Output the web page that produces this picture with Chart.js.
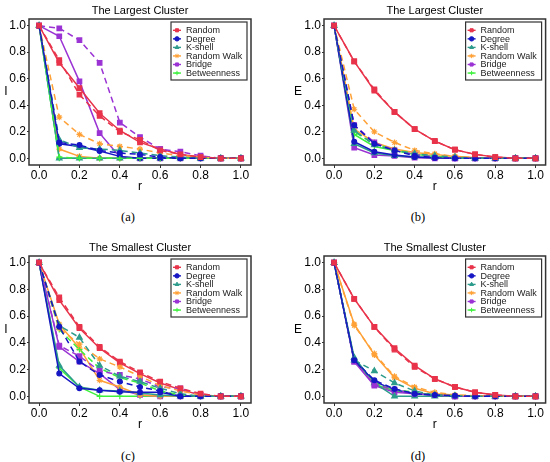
<!DOCTYPE html>
<html>
<head>
<meta charset="utf-8">
<script src="https://cdn.jsdelivr.net/npm/chart.js@4.4.1/dist/chart.umd.min.js"></script>
<style>
  html, body { margin: 0; padding: 0; background: #fff; }
  #page { position: relative; width: 550px; height: 462px; overflow: hidden; }
  .panel { position: absolute; }
  .caption { position: absolute; width: 40px; margin-left: -20px; text-align: center;
             font-family: 'Liberation Serif', 'DejaVu Serif', serif; font-size: 12.5px; color: #000; }
</style>
</head>
<body>
<div id="page"></div>
<script>
// x values (fraction of removed nodes)
const rValues = [0, 0.1, 0.2, 0.3, 0.4, 0.5, 0.6, 0.7, 0.8, 0.9, 1.0];
const methodNames = ['Random', 'Degree', 'K-shell', 'Random Walk', 'Bridge', 'Betweenness'];
const xTickValues = [0, 0.2, 0.4, 0.6, 0.8, 1.0];
const yTickValues = [0, 0.2, 0.4, 0.6, 0.8, 1.0];
const panelTitles = ['The Largest Cluster', 'The Largest Cluster', 'The Smallest Cluster', 'The Smallest Cluster'];
const yAxisLabels = ['I', 'E', 'I', 'E'];
const captions = ['(a)', '(b)', '(c)', '(d)'];

// rows follow methodNames order
const largestI_solid = [
  [1, 0.72, 0.53, 0.34, 0.21, 0.12, 0.07, 0.03, 0.01, 0, 0],
  [1, 0.11, 0.09, 0.055, 0.015, 0, 0, 0, 0, 0, 0],
  [1, 0, 0, 0, 0, 0, 0, 0, 0, 0, 0],
  [1, 0.07, 0.015, 0, 0, 0, 0, 0, 0, 0, 0],
  [1, 0.92, 0.58, 0.19, 0.01, 0, 0, 0, 0, 0, 0],
  [1, 0, 0, 0, 0, 0, 0, 0, 0, 0, 0]
];
const largestI_dashed = [
  [1, 0.74, 0.48, 0.32, 0.20, 0.14, 0.06, 0.03, 0.01, 0, 0],
  [1, 0.12, 0.10, 0.06, 0.04, 0.03, 0.01, 0, 0, 0, 0],
  [1, 0.14, 0.08, 0.07, 0.06, 0.04, 0.02, 0.01, 0, 0, 0],
  [1, 0.31, 0.18, 0.11, 0.09, 0.07, 0.04, 0.02, 0.01, 0, 0],
  [1, 0.98, 0.89, 0.72, 0.27, 0.16, 0.07, 0.05, 0.02, 0, 0],
  [1, 0.01, 0, 0, 0, 0, 0, 0, 0, 0, 0]
];
const largestE_solid = [
  [1, 0.73, 0.51, 0.35, 0.22, 0.13, 0.065, 0.03, 0.01, 0, 0],
  [1, 0.125, 0.05, 0.025, 0.01, 0.005, 0, 0, 0, 0, 0],
  [1, 0.11, 0.04, 0.02, 0.01, 0.005, 0, 0, 0, 0, 0],
  [1, 0.22, 0.12, 0.07, 0.045, 0.03, 0.015, 0.005, 0, 0, 0],
  [1, 0.08, 0.025, 0.018, 0.005, 0, 0, 0, 0, 0, 0],
  [1, 0.18, 0.09, 0.06, 0.03, 0.015, 0.005, 0, 0, 0, 0]
];
const largestE_dashed = [
  [1, 0.73, 0.52, 0.35, 0.22, 0.13, 0.065, 0.03, 0.01, 0, 0],
  [1, 0.25, 0.11, 0.06, 0.02, 0.005, 0, 0, 0, 0, 0],
  [1, 0.21, 0.10, 0.06, 0.035, 0.02, 0.01, 0, 0, 0, 0],
  [1, 0.37, 0.20, 0.12, 0.06, 0.035, 0.015, 0.005, 0, 0, 0],
  [1, 0.25, 0.12, 0.06, 0.03, 0.01, 0, 0, 0, 0, 0],
  [1, 0.20, 0.11, 0.065, 0.035, 0.015, 0.005, 0, 0, 0, 0]
];
const smallestI_solid = [
  [1, 0.72, 0.51, 0.36, 0.25, 0.17, 0.10, 0.05, 0.01, 0, 0],
  [1, 0.17, 0.06, 0.045, 0.035, 0.03, 0.03, 0, 0, 0, 0],
  [1, 0.23, 0.07, 0.045, 0.04, 0.025, 0.01, 0, 0, 0, 0],
  [1, 0.54, 0.36, 0.12, 0.07, 0.01, 0, 0, 0, 0, 0],
  [1, 0.37, 0.26, 0.17, 0.05, 0.01, 0, 0, 0, 0, 0],
  [1, 0.21, 0.07, 0, 0, 0, 0, 0, 0, 0, 0]
];
const smallestI_dashed = [
  [1, 0.74, 0.52, 0.37, 0.26, 0.18, 0.11, 0.06, 0.02, 0, 0],
  [1, 0.52, 0.26, 0.16, 0.11, 0.07, 0.04, 0, 0, 0, 0],
  [1, 0.53, 0.44, 0.23, 0.15, 0.11, 0.06, 0.02, 0, 0, 0],
  [1, 0.51, 0.39, 0.28, 0.22, 0.15, 0.08, 0.04, 0.01, 0, 0],
  [1, 0.38, 0.30, 0.19, 0.16, 0.13, 0.07, 0.06, 0.01, 0, 0],
  [1, 0.50, 0.35, 0.21, 0.14, 0.10, 0.04, 0.01, 0, 0, 0]
];
const smallestE_solid = [
  [1, 0.73, 0.52, 0.36, 0.23, 0.13, 0.07, 0.03, 0.01, 0, 0],
  [1, 0.27, 0.11, 0.05, 0.02, 0.01, 0, 0, 0, 0, 0],
  [1, 0.29, 0.10, 0, 0, 0, 0, 0, 0, 0, 0],
  [1, 0.54, 0.31, 0.14, 0.06, 0.02, 0.01, 0, 0, 0, 0],
  [1, 0.26, 0.08, 0.03, 0.02, 0.01, 0, 0, 0, 0, 0],
  [1, 0.27, 0.09, 0.04, 0.02, 0.01, 0, 0, 0, 0, 0]
];
const smallestE_dashed = [
  [1, 0.73, 0.52, 0.35, 0.22, 0.13, 0.07, 0.03, 0.01, 0, 0],
  [1, 0.27, 0.12, 0.055, 0.02, 0.01, 0.005, 0, 0, 0, 0],
  [1, 0.27, 0.19, 0.10, 0.04, 0.01, 0.005, 0, 0, 0, 0],
  [1, 0.53, 0.32, 0.15, 0.07, 0.03, 0.01, 0.005, 0, 0, 0],
  [1, 0.26, 0.09, 0.05, 0.02, 0.01, 0, 0, 0, 0, 0],
  [1, 0.27, 0.10, 0.05, 0.03, 0.01, 0, 0, 0, 0, 0]
];

const methodColors = ['#e8334a', '#1616c4', '#2d9c8c', '#ffa136', '#9b33d4', '#3cf03c'];
const methodPoints = ['rect', 'circle', 'triangle', 'star', 'rect', 'cross'];
const pointSizes = [3.2, 2.4, 3.2, 3, 3.2, 3];

const FONT = "'Liberation Sans', Arial, sans-serif";
Chart.defaults.font.family = FONT;
Chart.defaults.color = '#000';

// panel placement on the page
const panels = [
  { solid: largestI_solid, dashed: largestI_dashed, left: 0, top: 0, width: 275, height: 197, padLeft: 0, padRight: 24, padTop: 19, titleY: 10.5, axisWidth: 29, capX: 128, capY: 218 },
  { solid: largestE_solid, dashed: largestE_dashed, left: 275, top: 0, width: 275, height: 197, padLeft: 17, padRight: 4, padTop: 19, titleY: 10.5, axisWidth: 32, capX: 418, capY: 218 },
  { solid: smallestI_solid, dashed: smallestI_dashed, left: 0, top: 230, width: 275, height: 205, padLeft: 0, padRight: 24, padTop: 26, titleY: 17.5, axisWidth: 29, capX: 128, capY: 457 },
  { solid: smallestE_solid, dashed: smallestE_dashed, left: 275, top: 230, width: 275, height: 205, padLeft: 17, padRight: 4, padTop: 26, titleY: 17.5, axisWidth: 32, capX: 418, capY: 457 }
];

// frame round the plot area, title over the plot, upright y-axis label, legend box inside the plot
const framePlugin = {
  id: 'frameAndLegend',
  afterDraw(chart, args, opts) {
    const { ctx, chartArea } = chart;
    ctx.save();
    ctx.strokeStyle = '#333';
    ctx.lineWidth = 1.5;
    ctx.setLineDash([]);
    ctx.strokeRect(chartArea.left, chartArea.top, chartArea.right - chartArea.left, chartArea.bottom - chartArea.top);

    ctx.fillStyle = '#000';
    ctx.textAlign = 'center';
    ctx.textBaseline = 'middle';
    ctx.font = '11px ' + FONT;
    ctx.fillText(opts.title, (chartArea.left + chartArea.right) / 2, opts.titleY);

    // ggplot keeps this axis title upright
    ctx.font = '12px ' + FONT;
    ctx.fillText(opts.yLabel, chart.scales.y.left + 6, (chartArea.top + chartArea.bottom) / 2);

    const boxW = 76, boxH = 58, rowH = 8.55;
    const bx = chartArea.right - 4 - boxW;
    const by = chartArea.top + 3;
    ctx.fillStyle = '#fff';
    ctx.fillRect(bx, by, boxW, boxH);
    ctx.lineWidth = 1.2;
    ctx.strokeRect(bx, by, boxW, boxH);
    ctx.font = '9px ' + FONT;
    ctx.textAlign = 'left';
    methodNames.forEach((name, i) => {
      const y = by + 8.3 + i * rowH;
      ctx.strokeStyle = methodColors[i];
      ctx.fillStyle = methodColors[i];
      ctx.lineWidth = 1.4;
      ctx.beginPath();
      ctx.moveTo(bx + 2, y);
      ctx.lineTo(bx + 10, y);
      ctx.stroke();
      ctx.lineWidth = 1;
      Chart.helpers.drawPoint(ctx, { pointStyle: methodPoints[i], radius: 2.2, borderWidth: 1, rotation: 0 }, bx + 6, y);
      ctx.fillStyle = '#222';
      ctx.fillText(name, bx + 15, y + 0.5);
    });
    ctx.restore();
  }
};

function makeDatasets(solid, dashed) {
  const sets = [];
  [dashed, solid].forEach((rows, k) => {
    methodNames.forEach((name, i) => {
      sets.push({
        label: name,
        data: rValues.map((r, j) => ({ x: r, y: rows[i][j] })),
        borderColor: methodColors[i],
        backgroundColor: methodColors[i],
        borderWidth: 1.5,
        borderDash: k === 0 ? [6, 4] : [],
        pointStyle: methodPoints[i],
        pointRadius: pointSizes[i],
        pointBorderWidth: 1.2,
        pointHoverRadius: pointSizes[i],
        fill: false,
        tension: 0
      });
    });
  });
  return sets;
}

const page = document.getElementById('page');

panels.forEach((p, idx) => {
  const holder = document.createElement('div');
  holder.className = 'panel';
  holder.style.left = p.left + 'px';
  holder.style.top = p.top + 'px';
  holder.style.width = p.width + 'px';
  holder.style.height = p.height + 'px';
  page.appendChild(holder);

  const canvas = document.createElement('canvas');
  canvas.width = p.width;
  canvas.height = p.height;
  holder.appendChild(canvas);

  const cap = document.createElement('div');
  cap.className = 'caption';
  cap.style.left = p.capX + 'px';
  cap.style.top = (p.capY - 8) + 'px';
  cap.textContent = captions[idx];
  page.appendChild(cap);

  new Chart(canvas, {
    type: 'line',
    data: { datasets: makeDatasets(p.solid, p.dashed) },
    options: {
      responsive: false,
      animation: false,
      layout: { padding: { left: p.padLeft, right: p.padRight, top: p.padTop, bottom: 0 } },
      plugins: {
        legend: { display: false },
        tooltip: { enabled: false },
        title: { display: false },
        frameAndLegend: { yLabel: yAxisLabels[idx], title: panelTitles[idx], titleY: p.titleY }
      },
      scales: {
        x: {
          type: 'linear',
          min: -0.05,
          max: 1.05,
          afterBuildTicks: s => { s.ticks = xTickValues.map(v => ({ value: v })); },
          afterFit: s => { s.height = 32; },
          ticks: { font: { size: 12 }, padding: 0, maxRotation: 0, autoSkip: false, color: '#000',
                   callback: v => Number(v).toFixed(1) },
          grid: { drawOnChartArea: false, drawTicks: true, tickLength: 3, color: '#333', lineWidth: 1 },
          border: { display: false },
          title: { display: true, text: 'r', color: '#000', font: { size: 12 }, padding: { top: 0, bottom: 3 } }
        },
        y: {
          type: 'linear',
          min: -0.05,
          max: 1.05,
          afterBuildTicks: s => { s.ticks = yTickValues.map(v => ({ value: v })); },
          afterFit: s => { s.width = p.axisWidth; },
          ticks: { font: { size: 12 }, padding: 1, color: '#000',
                   callback: v => Number(v).toFixed(1) },
          grid: { drawOnChartArea: false, drawTicks: true, tickLength: 2, color: '#333', lineWidth: 1 },
          border: { display: false },
          title: { display: false }
        }
      }
    },
    plugins: [framePlugin]
  });
});
</script>
</body>
</html>
